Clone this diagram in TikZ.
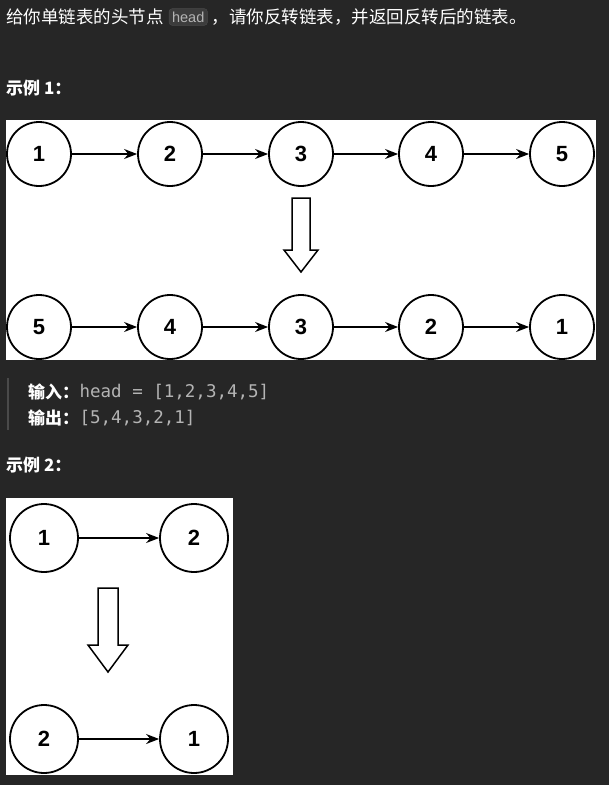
\documentclass[tikz,border=0pt]{standalone}
\usepackage{fontspec}
\setmainfont{Liberation Sans}
\newfontfamily\cjk{Noto Sans CJK SC}
\newfontfamily\codefont{DejaVu Sans Mono}
\usetikzlibrary{positioning,arrows.meta}
\definecolor{pagebg}{HTML}{262626}
\definecolor{codegray}{HTML}{B4B4B4}
\definecolor{quotebar}{HTML}{4A4A4A}

\begin{document}
\begin{tikzpicture} [
  x=1pt, y=-1pt,
  listnode/.style={circle,draw,line width=1.8pt,minimum size=64pt,inner sep=0,font=\fontsize{22}{22}\selectfont\bfseries},
  bignode/.style={listnode,minimum size=68pt},
  link/.style={-{Stealth[length=13pt,width=10pt]},line width=1.5pt},
  title/.style={anchor=west,text=white,inner sep=0,font=\cjk\fontsize{17.5}{19}\selectfont},
  heading/.style={title,font=\cjk\bfseries\fontsize{17}{18}\selectfont},
  codetext/.style={anchor=west,inner sep=0,text=codegray,font=\codefont\fontsize{17.5}{18}\selectfont}
  ]
  \fill[pagebg] (0,0) rectangle (609,785);
  \useasboundingbox (0,0) rectangle (609,785);
  % text on top
  \node (intro) [title] at (6,17) {给你单链表的头节点};
  \node (headtag) [right=5pt of intro,draw=quotebar,fill=white!10!pagebg,rounded corners=3pt,inner sep=3pt,text=codegray,font=\fontsize{14.5}{15}\selectfont] {head};
  \node (intro2) [title,right=4pt of headtag] {，请你反转链表，并返回反转后的链表。};
  \node (ex1) [heading] at (6,88) {示例 1：};
  % example 1
  \fill[white] (6,120) rectangle (596,360);
  \foreach \i/\x in {1/39,2/170,3/301,4/431,5/562} {
    \node (a\i) [listnode] at (\x,154) {\i};
  }
  \foreach \i/\v/\x in {1/5/39,2/4/170,3/3/301,4/2/431,5/1/562} {
    \node (b\i) [listnode] at (\x,327) {\v};
  }
  \foreach \i [count=\j from 2] in {1,...,4} {
    \draw[link] (a\i) -- (a\j);
    \draw[link] (b\i) -- (b\j);
  }
  \draw[line width=1.5pt,line join=miter] (292,198) -- (310,198) -- (310,250) -- (318,250)
    -- (301,272) -- (284,250) -- (292,250) -- cycle;
  % input / output
  \fill[quotebar] (7,378) rectangle (9,430);
  \node (in) [heading] at (28,392) {输入：};
  \node (incode) [codetext,right=0pt of in] {head = [1,2,3,4,5]};
  \node (out) [heading] at (28,418) {输出：};
  \node (outcode) [codetext,right=0pt of out] {[5,4,3,2,1]};
  \node (ex2) [heading] at (6,465) {示例 2：};
  % example 2
  \fill[white] (6,498) rectangle (233,775);
  \node (c1) [bignode] at (44,538) {1};
  \node (c2) [bignode] at (194,538) {2};
  \node (d1) [bignode] at (44,739) {2};
  \node (d2) [bignode] at (194,739) {1};
  \draw[link] (c1) -- (c2);
  \draw[link] (d1) -- (d2);
  \draw[line width=1.5pt,line join=miter] (98,588) -- (118,588) -- (118,645) -- (128,645)
    -- (108,672) -- (88,645) -- (98,645) -- cycle;
\end{tikzpicture}
\end{document}
